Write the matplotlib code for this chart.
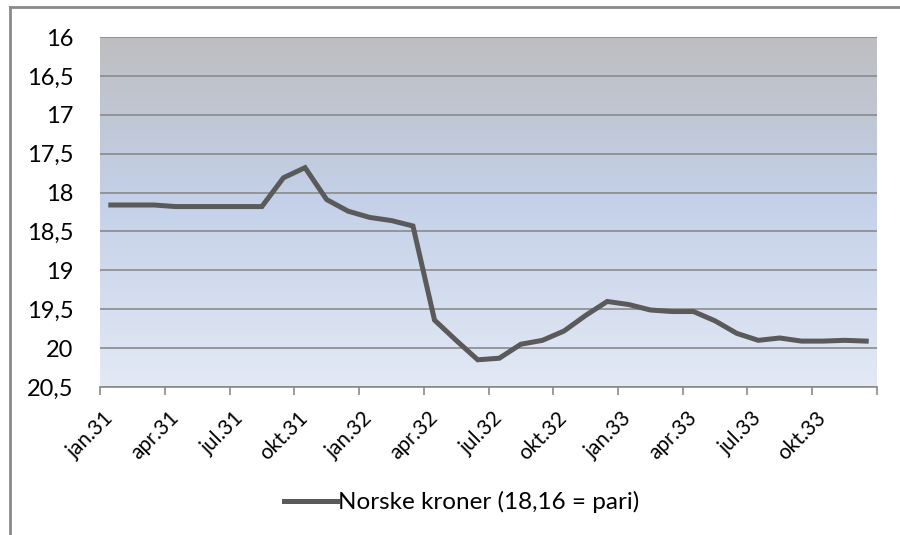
import numpy as np
import matplotlib
matplotlib.use('Agg')
import matplotlib.pyplot as plt
from matplotlib.lines import Line2D

plt.rcParams['font.family'] = ['Lato', 'DejaVu Sans']

# monthly values, jan.31 - des.33
months = ['jan.31', 'feb.31', 'mar.31', 'apr.31', 'mai.31', 'jun.31', 'jul.31', 'aug.31', 'sep.31',
          'okt.31', 'nov.31', 'des.31', 'jan.32', 'feb.32', 'mar.32', 'apr.32', 'mai.32', 'jun.32',
          'jul.32', 'aug.32', 'sep.32', 'okt.32', 'nov.32', 'des.32', 'jan.33', 'feb.33', 'mar.33',
          'apr.33', 'mai.33', 'jun.33', 'jul.33', 'aug.33', 'sep.33', 'okt.33', 'nov.33', 'des.33']
kroner = [18.16, 18.16, 18.16, 18.18, 18.18, 18.18, 18.18, 18.18, 17.81,
          17.68, 18.09, 18.24, 18.32, 18.36, 18.43, 19.64, 19.90, 20.15,
          20.13, 19.95, 19.90, 19.78, 19.58, 19.40, 19.44, 19.51, 19.53,
          19.53, 19.65, 19.81, 19.90, 19.87, 19.91, 19.91, 19.90, 19.91]
y_ticks = [16, 16.5, 17, 17.5, 18, 18.5, 19, 19.5, 20, 20.5]
y_labels = ['16', '16,5', '17', '17,5', '18', '18,5', '19', '19,5', '20', '20,5']
series_name = 'Norske kroner (18,16 = pari)'

fig = plt.figure(figsize=(9, 5.35), dpi=100)
ax = fig.add_axes([100 / 900, 1 - 387 / 535, 777 / 900, 350 / 535])

x = np.arange(len(months))
ax.set_xlim(-0.5, len(months) - 0.5)
ax.set_ylim(20.5, 16)

# gradient background (grey at top -> light blue at bottom)
top = np.array([190, 190, 192]) / 255
mid = np.array([195, 208, 232]) / 255
bot = np.array([227, 233, 245]) / 255
t = np.linspace(0, 1, 256)[:, None]
grad = np.where(t < 0.45, top + (mid - top) * (t / 0.45), mid + (bot - mid) * ((t - 0.45) / 0.55))
ax.imshow(grad[:, None, :], extent=[-0.5, len(months) - 0.5, 20.5, 16], aspect='auto', zorder=0)

for v in y_ticks:
    ax.axhline(v, color='#8a8a8a', lw=1.2, zorder=1)

ax.plot(x, kroner, color='#5a5a5a', lw=3.6, solid_joinstyle='miter', zorder=3, label=series_name)

for s in ['left', 'right', 'top']:
    ax.spines[s].set_visible(False)
ax.spines['bottom'].set_color('#8a8a8a')
ax.spines['bottom'].set_linewidth(1.2)

ax.set_yticks(y_ticks)
ax.set_yticklabels(y_labels, fontsize=17)
ax.tick_params(axis='y', length=0, pad=19)

ax.set_xticks(np.arange(-0.5, len(months), 3), minor=False)
ax.set_xticklabels([])
ax.tick_params(axis='x', which='major', length=6, color='#8a8a8a', width=1.2, direction='out')
ax.set_xticks(x[::3], minor=True)
ax.set_xticklabels(months[::3], minor=True, rotation=45, ha='right', va='center',
                   rotation_mode='anchor', fontsize=15)
ax.tick_params(axis='x', which='minor', length=0, pad=20)

fig.legend(loc='center', bbox_to_anchor=(0.513, 1 - 502 / 535), frameon=False, fontsize=17.5,
           handlelength=2.2, handletextpad=0.05)

# outer chart border
fig.add_artist(Line2D([10 / 900, 1], [1 - 7 / 535, 1 - 7 / 535], color='#8a8a8a', lw=2))
fig.add_artist(Line2D([10 / 900, 10 / 900], [0, 1 - 7 / 535], color='#8a8a8a', lw=2))

fig.savefig('out.png', dpi=100)
